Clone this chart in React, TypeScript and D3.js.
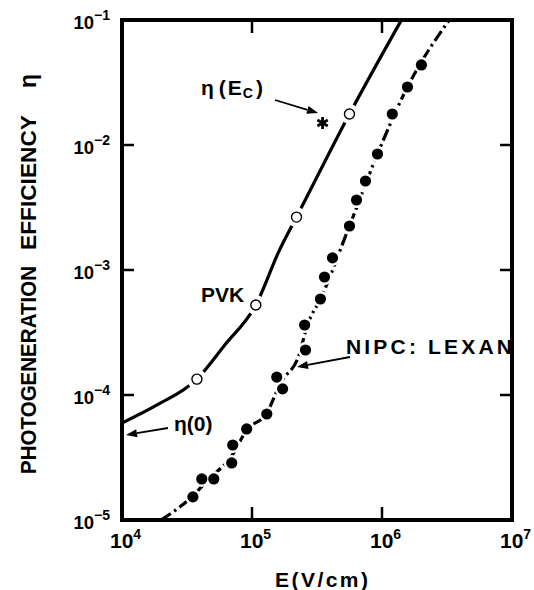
import React from "react";
import * as d3 from "d3";

// ---- data ----
const xTicks = [1e4, 1e5, 1e6, 1e7];
const xTickExp = ["4", "5", "6", "7"];
const yTicks = [1e-1, 1e-2, 1e-3, 1e-4, 1e-5];
const yTickExp = ["−1", "−2", "−3", "−4", "−5"];

// PVK smooth curve (solid)
const pvkCurveE = [1e4, 1.86e4, 3.77e4, 6.17e4, 1.07e5, 1.63e5, 2.2e5, 5.62e5, 1.41e6];
const pvkCurveEta = [5.97e-5, 8.32e-5, 1.34e-4, 2.51e-4, 5.25e-4, 1.45e-3, 2.65e-3, 1.77e-2, 1e-1];
// PVK open circles
const pvkE = [3.77e4, 1.07e5, 2.2e5, 5.62e5];
const pvkEta = [1.34e-4, 5.25e-4, 2.65e-3, 1.77e-2];
// asterisk marker eta(Ec)
const starE = [3.49e5];
const starEta = [1.5e-2];

// NIPC:LEXAN curve (dash-dot)
const nipcCurveE = [1.99e4, 3.51e4, 4.57e4, 6.98e4, 9.1e4, 1.3e5, 1.66e5, 2.3e5, 2.67e5, 3.36e5, 5.62e5, 9.23e5, 1.57e6, 3.29e6];
const nipcCurveEta = [1e-5, 1.56e-5, 2.09e-5, 3.25e-5, 5.25e-5, 7.18e-5, 1.25e-4, 2.09e-4, 3.63e-4, 5.86e-4, 2.25e-3, 8.47e-3, 2.91e-2, 1e-1];
// NIPC:LEXAN filled dots
const nipcE = [3.51e4, 4.11e4, 5.08e4, 6.98e4, 7.11e4, 9.1e4, 1.3e5, 1.72e5, 1.55e5, 2.58e5, 2.54e5, 3.36e5, 3.61e5, 4.16e5, 5.62e5, 6.37e5, 7.46e5, 9.23e5, 1.2e6, 1.57e6, 2.01e6];
const nipcEta = [1.53e-5, 2.13e-5, 2.13e-5, 2.86e-5, 3.98e-5, 5.35e-5, 7.05e-5, 1.12e-4, 1.39e-4, 2.29e-4, 3.63e-4, 5.86e-4, 8.79e-4, 1.25e-3, 2.25e-3, 3.63e-3, 5.15e-3, 8.47e-3, 1.77e-2, 2.91e-2, 4.37e-2];

const W = 534;
const H = 590;
const L = 122, R = 512, T = 20, B = 520;
const FONT = "'Liberation Sans', Arial, Helvetica, sans-serif";

function Arrow({ x1, y1, x2, y2 }: { x1: number; y1: number; x2: number; y2: number }) {
  const a = Math.atan2(y2 - y1, x2 - x1);
  const len = 11, w = 4;
  const bx = x2 - len * Math.cos(a), by = y2 - len * Math.sin(a);
  const p1 = [bx + w * Math.sin(a), by - w * Math.cos(a)];
  const p2 = [bx - w * Math.sin(a), by + w * Math.cos(a)];
  return (
    <g>
      <line x1={x1} y1={y1} x2={bx} y2={by} stroke="#000" strokeWidth={1.8} />
      <polygon points={`${x2},${y2} ${p1[0]},${p1[1]} ${p2[0]},${p2[1]}`} fill="#000" />
    </g>
  );
}

export default function App() {
  const x = d3.scaleLog().domain([1e4, 1e7]).range([L, R]);
  const y = d3.scaleLog().domain([1e-5, 1e-1]).range([B, T]);
  const line = d3
    .line<[number, number]>()
    .x((d) => x(d[0]))
    .y((d) => y(d[1]))
    .curve(d3.curveMonotoneX);

  const pvkPath = line(pvkCurveE.map((e, i) => [e, pvkCurveEta[i]]) as [number, number][]) || "";
  const nipcPath = line(nipcCurveE.map((e, i) => [e, nipcCurveEta[i]]) as [number, number][]) || "";

  const sx = x(starE[0]);
  const sy = y(starEta[0]);

  return (
    <svg
      width={W}
      height={H}
      viewBox={`0 0 ${W} ${H}`}
      style={{ position: "absolute", left: 0, top: 0, background: "#fff" }}
      fontFamily={FONT}
    >
      <rect x={0} y={0} width={W} height={H} fill="#fff" />
      <defs>
        <clipPath id="plot">
          <rect x={L} y={T} width={R - L} height={B - T} />
        </clipPath>
      </defs>

      <g clipPath="url(#plot)">
        {/* PVK solid curve */}
        <path d={pvkPath} fill="none" stroke="#000" strokeWidth={3.2} />
        {pvkE.map((e, i) => (
          <circle key={"k" + i} cx={x(e)} cy={y(pvkEta[i])} r={10} fill="#fff" />
        ))}
        {pvkE.map((e, i) => (
          <circle key={"c" + i} cx={x(e)} cy={y(pvkEta[i])} r={5} fill="#fff" stroke="#000" strokeWidth={1.4} />
        ))}

        {/* NIPC dash-dot curve */}
        <path d={nipcPath} fill="none" stroke="#000" strokeWidth={3.2} strokeDasharray="12 4 2.5 4" />
        {nipcE.map((e, i) => (
          <circle key={"nk" + i} cx={x(e)} cy={y(nipcEta[i])} r={8} fill="#fff" />
        ))}
        {nipcE.map((e, i) => (
          <circle key={"n" + i} cx={x(e)} cy={y(nipcEta[i])} r={5.6} fill="#000" />
        ))}
      </g>

      {/* asterisk */}
      <g stroke="#000" strokeWidth={2.8} strokeLinecap="butt">
        {[90, 30, -30].map((ang) => {
          const r = 6;
          const a = (ang * Math.PI) / 180;
          return (
            <line
              key={ang}
              x1={sx - r * Math.cos(a)}
              y1={sy - r * Math.sin(a)}
              x2={sx + r * Math.cos(a)}
              y2={sy + r * Math.sin(a)}
            />
          );
        })}
      </g>

      {/* frame */}
      <rect x={L} y={T} width={R - L} height={B - T} fill="none" stroke="#000" strokeWidth={4} />

      {/* ticks */}
      {xTicks.slice(1, 3).map((t) => (
        <g key={"xt" + t}>
          <line x1={x(t)} x2={x(t)} y1={B} y2={B - 13} stroke="#000" strokeWidth={2.5} />
          <line x1={x(t)} x2={x(t)} y1={T} y2={T + 13} stroke="#000" strokeWidth={2.5} />
        </g>
      ))}
      {yTicks.slice(1, 4).map((t) => (
        <g key={"yt" + t}>
          <line x1={L} x2={L + 12} y1={y(t)} y2={y(t)} stroke="#000" strokeWidth={2.5} />
          <line x1={R} x2={R - 12} y1={y(t)} y2={y(t)} stroke="#000" strokeWidth={2.5} />
        </g>
      ))}

      {/* x tick labels */}
      {xTicks.map((t, i) => (
        <text key={"xl" + t} x={x(t) - 12} y={548} fontSize={21} fontWeight="bold" fill="#000">
          10
          <tspan fontSize={14} dy={-9}>{xTickExp[i]}</tspan>
        </text>
      ))}

      {/* y tick labels */}
      {yTicks.map((t, i) => (
        <text key={"yl" + t} x={110} y={y(t) + 9} fontSize={18.5} fontWeight="bold" fill="#000" textAnchor="end">
          10
          <tspan fontSize={14} dy={-9}>{yTickExp[i]}</tspan>
        </text>
      ))}

      {/* x axis title */}
      <text x={275} y={587} fontSize={21} fontWeight="bold" fill="#000" textLength={93} lengthAdjust="spacing">
        E(V/cm)
      </text>

      {/* y axis title */}
      <g transform="translate(36,0)">
        <text transform="translate(0,474) rotate(-90)" fontSize={22} fontWeight="bold" fill="#000" textLength={208} lengthAdjust="spacingAndGlyphs">
          PHOTOGENERATION
        </text>
        <text transform="translate(0,250) rotate(-90)" fontSize={22} fontWeight="bold" fill="#000" textLength={135} lengthAdjust="spacingAndGlyphs">
          EFFICIENCY
        </text>
        <text transform="translate(0,88) rotate(-90)" fontSize={23} fontWeight="bold" fill="#000">
          η
        </text>
      </g>

      {/* annotations */}
      <text x={201} y={95} fontSize={21} fontWeight="bold" fill="#000">
        η
        <tspan dx={5}>(</tspan>
        <tspan dx={2}>E</tspan>
        <tspan fontSize={14} dy={3} dx={1}>C</tspan>
        <tspan dy={-3} dx={3}>)</tspan>
      </text>
      <Arrow x1={275} y1={100} x2={318} y2={113} />

      <text x={201} y={302} fontSize={21} fontWeight="bold" fill="#000">
        PVK
      </text>

      <text x={174} y={431} fontSize={21} fontWeight="bold" fill="#000">
        η(0)
      </text>
      <Arrow x1={168} y1={428} x2={126} y2={435} />

      <text x={346} y={354} fontSize={21} fontWeight="bold" fill="#000" textLength={166} lengthAdjust="spacing">
        NIPC: LEXAN
      </text>
      <Arrow x1={350} y1={357} x2={297} y2={367} />
    </svg>
  );
}
